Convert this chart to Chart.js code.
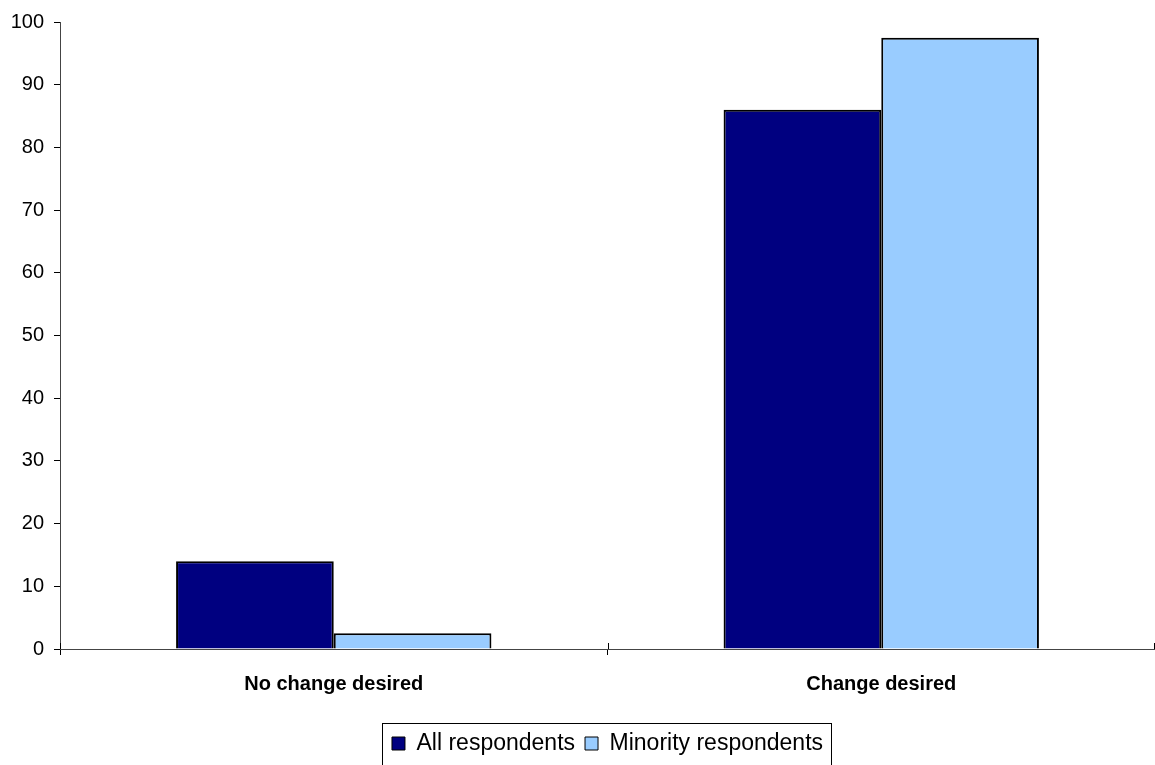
<!DOCTYPE html>
<html>
<head>
<meta charset="utf-8">
<script src="https://cdn.jsdelivr.net/npm/chart.js@4.4.1/dist/chart.umd.min.js"></script>
<style>
  html, body { margin: 0; padding: 0; background: #ffffff; }
  #wrap { width: 1155px; height: 765px; position: relative; }
</style>
</head>
<body>
<div id="wrap"><canvas id="c" width="1155" height="765"></canvas></div>
<script>
// Survey responses (percent)
const categories = ['No change desired', 'Change desired'];
const seriesNames = ['All respondents', 'Minority respondents'];
const allRespondents = [14, 86];
const minorityRespondents = [2.5, 97.5];
const yTicks = [0, 10, 20, 30, 40, 50, 60, 70, 80, 90, 100];

const FONT = '"Liberation Sans", Arial, sans-serif';

// Centres the legend under the plot area instead of the whole canvas
const legendCenter = {
  id: 'legendCenter',
  afterUpdate(chart) {
    const lg = chart.legend;
    const ca = chart.chartArea;
    if (!lg || !lg.legendHitBoxes) return;
    const delta = ((ca.left + ca.right) - (lg.left + lg.right)) / 2;
    lg.left += delta;
    lg.right += delta;
    lg.legendHitBoxes.forEach(h => { h.left += delta; });
  }
};

// Draws a frame around the legend items and the crossing part of the category ticks
const legendFrame = {
  id: 'legendFrame',
  afterDraw(chart) {
    const lg = chart.legend;
    if (!lg || !lg.legendHitBoxes || !lg.legendHitBoxes.length) return;
    const boxes = lg.legendHitBoxes;
    let l = Infinity, r = -Infinity, t = Infinity;
    boxes.forEach(b => {
      l = Math.min(l, b.left);
      r = Math.max(r, b.left + b.width);
      t = Math.min(t, b.top);
    });
    const ctx = chart.ctx;
    ctx.save();
    ctx.strokeStyle = '#000';
    ctx.lineWidth = 1;
    ctx.strokeRect(Math.round(l - 10) + 0.5, Math.round(t - 9) + 0.5,
                   Math.round(r - l + 18), chart.height + 10);
    // category ticks cross the axis line
    const xs = chart.scales.x;
    const yb = chart.chartArea.bottom;
    ctx.beginPath();
    for (let i = 0; i <= categories.length; i++) {
      const px = Math.round(xs.left + (xs.right - xs.left) * i / categories.length) + 0.5;
      ctx.moveTo(Math.min(px, chart.width - 0.5), yb - 6);
      ctx.lineTo(Math.min(px, chart.width - 0.5), yb);
    }
    ctx.stroke();
    ctx.restore();
  }
};

new Chart(document.getElementById('c'), {
  type: 'bar',
  data: {
    labels: categories,
    datasets: [
      {
        label: seriesNames[0],
        data: allRespondents,
        backgroundColor: '#000080',
        borderColor: '#000000',
        borderWidth: 2,
        categoryPercentage: 0.576,
        barPercentage: 1.0
      },
      {
        label: seriesNames[1],
        data: minorityRespondents,
        backgroundColor: '#99CCFF',
        borderColor: '#000000',
        borderWidth: 2,
        categoryPercentage: 0.576,
        barPercentage: 1.0
      }
    ]
  },
  options: {
    responsive: false,
    animation: false,
    devicePixelRatio: 1,
    layout: { padding: { top: 21, left: 0, right: 0, bottom: 0 } },
    plugins: {
      tooltip: { enabled: false },
      title: { display: false },
      legend: {
        display: true,
        position: 'bottom',
        labels: {
          boxWidth: 13,
          boxHeight: 13,
          padding: 10,
          color: '#000',
          font: { family: FONT, size: 23 },
          generateLabels(chart) {
            return chart.data.datasets.map((ds, i) => ({
              text: ds.label,
              fillStyle: ds.backgroundColor,
              strokeStyle: '#000',
              lineWidth: 1,
              hidden: false,
              datasetIndex: i
            }));
          }
        }
      }
    },
    scales: {
      x: {
        offset: true,
        grid: {
          display: true,
          offset: true,
          drawOnChartArea: false,
          drawTicks: true,
          tickLength: 6,
          color: '#000'
        },
        border: { display: true, color: '#444', width: 1 },
        ticks: {
          color: '#000',
          padding: 17,
          font: { family: FONT, size: 20, weight: 'bold' }
        },
        afterFit(scale) { scale.height = 73; }
      },
      y: {
        min: 0,
        max: 100,
        afterBuildTicks(scale) { scale.ticks = yTicks.map(v => ({ value: v })); },
        grid: {
          display: true,
          drawOnChartArea: false,
          drawTicks: true,
          tickLength: 6,
          color: '#000'
        },
        border: { display: true, color: '#444', width: 1 },
        ticks: {
          color: '#000',
          padding: 10,
          font: { family: FONT, size: 20 }
        },
        afterFit(scale) { scale.width = 60; }
      }
    }
  },
  plugins: [legendCenter, legendFrame]
});
</script>
</body>
</html>
